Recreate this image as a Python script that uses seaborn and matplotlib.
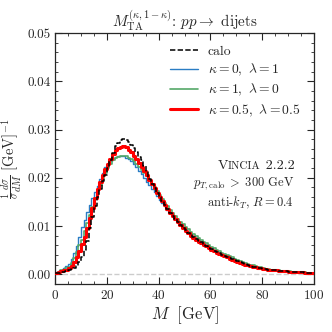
import matplotlib
matplotlib.use('Agg')
import matplotlib.pyplot as plt
from matplotlib.offsetbox import TextArea, HPacker, VPacker, AnchoredOffsetbox
from matplotlib.ticker import MultipleLocator, FormatStrFormatter
import seaborn as sns
import numpy as np
import pandas as pd

# bins 1 GeV wide, 0 - 100 GeV
centers = np.arange(0, 100) + 0.5

# 1/sigma dsigma/dM per bin
calo = [0.0002, 0.0003, 0.0004, 0.0005, 0.0007, 0.0009, 0.0011, 0.0014, 0.0018, 0.0026,
        0.0036, 0.0050, 0.0070, 0.0095, 0.0118, 0.0142, 0.0160, 0.0177, 0.0193, 0.0206,
        0.0220, 0.0236, 0.0252, 0.0265, 0.0273, 0.0278, 0.0280, 0.0279, 0.0274, 0.0268,
        0.0261, 0.0253, 0.0244, 0.0236, 0.0224, 0.0212, 0.0198, 0.0188, 0.0178, 0.0168,
        0.0160, 0.0151, 0.0143, 0.0135, 0.0127, 0.0120, 0.0114, 0.0108, 0.0102, 0.0096,
        0.0091, 0.0086, 0.0081, 0.0077, 0.0073, 0.0069, 0.0066, 0.0062, 0.0059, 0.0055,
        0.0052, 0.0049, 0.0046, 0.0044, 0.0041, 0.0038, 0.0036, 0.0033, 0.0031, 0.0029,
        0.0027, 0.0025, 0.0023, 0.0021, 0.0019, 0.0018, 0.0016, 0.0015, 0.0014, 0.0013,
        0.0012, 0.0011, 0.0010, 0.0009, 0.0009, 0.0008, 0.0007, 0.0007, 0.0006, 0.0006,
        0.0005, 0.0005, 0.0005, 0.0004, 0.0004, 0.0004, 0.0003, 0.0003, 0.0003, 0.0003]

k0_l1 = [0.0004, 0.0006, 0.0010, 0.0013, 0.0017, 0.0022, 0.0032, 0.0045, 0.0058, 0.0078,
         0.0098, 0.0113, 0.0130, 0.0144, 0.0158, 0.0171, 0.0182, 0.0198, 0.0210, 0.0222,
         0.0229, 0.0235, 0.0240, 0.0243, 0.0245, 0.0246, 0.0245, 0.0242, 0.0238, 0.0234,
         0.0228, 0.0222, 0.0215, 0.0207, 0.0200, 0.0192, 0.0185, 0.0177, 0.0170, 0.0162,
         0.0155, 0.0148, 0.0141, 0.0134, 0.0127, 0.0121, 0.0115, 0.0109, 0.0104, 0.0098,
         0.0093, 0.0088, 0.0083, 0.0079, 0.0075, 0.0071, 0.0067, 0.0064, 0.0060, 0.0057,
         0.0054, 0.0051, 0.0048, 0.0045, 0.0042, 0.0040, 0.0037, 0.0035, 0.0032, 0.0030,
         0.0028, 0.0026, 0.0024, 0.0022, 0.0020, 0.0019, 0.0017, 0.0016, 0.0015, 0.0013,
         0.0012, 0.0011, 0.0010, 0.0010, 0.0009, 0.0008, 0.0008, 0.0007, 0.0006, 0.0006,
         0.0005, 0.0005, 0.0005, 0.0004, 0.0004, 0.0004, 0.0003, 0.0003, 0.0003, 0.0003]

k1_l0 = [0.0003, 0.0005, 0.0008, 0.0010, 0.0013, 0.0016, 0.0024, 0.0034, 0.0047, 0.0060,
         0.0072, 0.0090, 0.0106, 0.0122, 0.0140, 0.0156, 0.0172, 0.0186, 0.0198, 0.0210,
         0.0220, 0.0229, 0.0236, 0.0241, 0.0244, 0.0246, 0.0246, 0.0245, 0.0242, 0.0239,
         0.0235, 0.0229, 0.0223, 0.0217, 0.0210, 0.0203, 0.0196, 0.0188, 0.0180, 0.0172,
         0.0164, 0.0156, 0.0148, 0.0141, 0.0134, 0.0127, 0.0121, 0.0115, 0.0109, 0.0104,
         0.0098, 0.0093, 0.0088, 0.0083, 0.0079, 0.0075, 0.0071, 0.0067, 0.0064, 0.0060,
         0.0057, 0.0054, 0.0051, 0.0048, 0.0045, 0.0042, 0.0040, 0.0037, 0.0035, 0.0032,
         0.0030, 0.0028, 0.0026, 0.0024, 0.0022, 0.0020, 0.0019, 0.0017, 0.0016, 0.0015,
         0.0013, 0.0012, 0.0011, 0.0010, 0.0009, 0.0009, 0.0008, 0.0007, 0.0007, 0.0006,
         0.0006, 0.0005, 0.0005, 0.0005, 0.0004, 0.0004, 0.0004, 0.0003, 0.0003, 0.0003]

k05_l05 = [0.0003, 0.0004, 0.0006, 0.0008, 0.0010, 0.0013, 0.0017, 0.0026, 0.0036, 0.0048,
           0.0062, 0.0078, 0.0097, 0.0116, 0.0138, 0.0158, 0.0176, 0.0192, 0.0205, 0.0218,
           0.0228, 0.0239, 0.0250, 0.0257, 0.0261, 0.0264, 0.0265, 0.0263, 0.0258, 0.0253,
           0.0246, 0.0239, 0.0231, 0.0222, 0.0214, 0.0205, 0.0196, 0.0187, 0.0178, 0.0169,
           0.0161, 0.0152, 0.0144, 0.0136, 0.0128, 0.0121, 0.0114, 0.0108, 0.0102, 0.0096,
           0.0090, 0.0085, 0.0080, 0.0076, 0.0072, 0.0068, 0.0065, 0.0061, 0.0058, 0.0054,
           0.0051, 0.0048, 0.0045, 0.0043, 0.0040, 0.0037, 0.0035, 0.0032, 0.0030, 0.0028,
           0.0026, 0.0024, 0.0022, 0.0020, 0.0019, 0.0017, 0.0016, 0.0015, 0.0014, 0.0013,
           0.0012, 0.0011, 0.0010, 0.0009, 0.0009, 0.0008, 0.0007, 0.0007, 0.0006, 0.0006,
           0.0005, 0.0005, 0.0004, 0.0004, 0.0004, 0.0004, 0.0003, 0.0003, 0.0003, 0.0003]

labels = ['calo', r'$\kappa=0,\ \lambda=1$', r'$\kappa=1,\ \lambda=0$', r'$\kappa=0.5,\ \lambda=0.5$']

sns.set_style('ticks')
plt.rcParams['font.family'] = 'serif'
plt.rcParams['font.serif'] = ['cmr10', 'DejaVu Serif']
plt.rcParams['mathtext.fontset'] = 'cm'
plt.rcParams['axes.formatter.use_mathtext'] = True
plt.rcParams['axes.unicode_minus'] = False

fig = plt.figure(figsize=(3.32, 3.32), dpi=100)
ax = fig.add_axes([0.166, 0.1446, 0.780, 0.756])

ax.axhline(0, color='#cccccc', ls='--', lw=1.0, zorder=0)

# (data, colour, width, style, zorder)
styles = [
    (calo, 'black', 1.1, (0, (3.5, 1.5)), 5),
    (k0_l1, '#2a7dc4', 1.0, '-', 2),
    (k1_l0, '#55a868', 1.2, '-', 3),
    (k05_l05, '#ff0000', 2.2, '-', 4),
]
for (vals, col, lw, ls, z), lab in zip(styles, labels):
    df = pd.DataFrame({'M': centers, 'w': vals})
    sns.histplot(data=df, x='M', weights='w', binwidth=1, binrange=(0, 100),
                 element='step', fill=False, color=col, linewidth=lw,
                 linestyle=ls, zorder=z, label=lab, ax=ax)

ax.set_xlim(0, 100)
ax.set_ylim(-0.002, 0.05)
ax.xaxis.set_major_locator(MultipleLocator(20))
ax.xaxis.set_minor_locator(MultipleLocator(5))
ax.yaxis.set_major_locator(MultipleLocator(0.01))
ax.yaxis.set_minor_locator(MultipleLocator(0.002))
ax.yaxis.set_major_formatter(FormatStrFormatter('%.2f'))
ax.tick_params(which='both', direction='in', top=True, right=True, labelsize=9.5)
ax.tick_params(which='major', length=5, width=0.8)
ax.tick_params(which='minor', length=2.5, width=0.6)
for sp in ax.spines.values():
    sp.set_linewidth(0.9)

ax.set_xlabel(r'$M\ \ [\mathrm{GeV}]$', fontsize=12, labelpad=2)
ax.set_ylabel(r'$\frac{1}{\sigma}\frac{d\sigma}{dM}\ [\mathrm{GeV}]^{-1}$', fontsize=10.5, labelpad=2)
ax.set_title(r'$M_{\mathrm{TA}}^{(\kappa,1-\kappa)}$: $pp \to$ dijets', fontsize=10.8, pad=3)

handles, labs = ax.get_legend_handles_labels()
ax.legend(handles, labs, loc='upper right', frameon=False, fontsize=9.8,
          handlelength=2.1, handletextpad=0.7, labelspacing=0.3, borderaxespad=0.3,
          bbox_to_anchor=(0.985, 0.99))

# info block, Vincia in small caps built from two sizes
row1 = HPacker(children=[TextArea('V', textprops=dict(fontsize=10)),
                         TextArea('INCIA', textprops=dict(fontsize=8)),
                         TextArea(' 2.2.2', textprops=dict(fontsize=10))],
               align='baseline', pad=0, sep=0)
row2 = TextArea(r'$p_{T,\mathrm{calo}}\;>\;300$ GeV', textprops=dict(fontsize=9))
row3 = TextArea(r'anti-$k_T$, $R = 0.4$', textprops=dict(fontsize=9))
box = VPacker(children=[row1, row2, row3], align='right', pad=0, sep=2)
anch = AnchoredOffsetbox(loc='upper right', child=box, frameon=False,
                         bbox_to_anchor=(0.945, 0.515), bbox_transform=ax.transAxes,
                         borderpad=0)
ax.add_artist(anch)

fig.savefig('out.png', dpi=100)
